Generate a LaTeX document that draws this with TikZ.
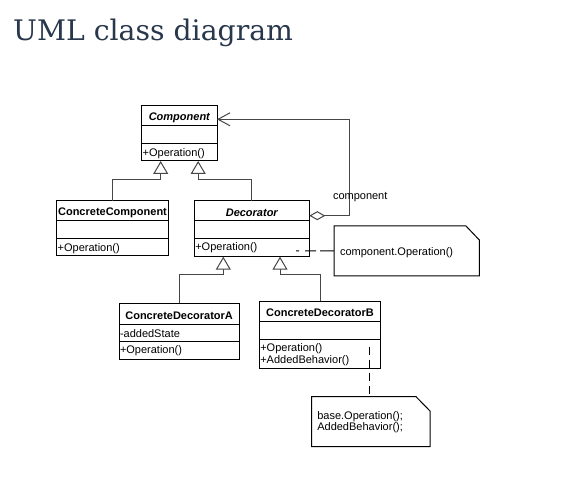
\documentclass[tikz,border=0pt]{standalone}
\usepackage{fontspec}
\setmainfont{Liberation Sans}
\newfontfamily\titlefont{DejaVu Serif}
\usetikzlibrary{arrows.meta,calc}
\definecolor{titlecol}{RGB}{40,55,75}
\definecolor{linecol}{RGB}{70,70,70}
\begin{document}
\begin{tikzpicture}[x=1pt,y=-1pt,
  box/.style={draw=black,line width=1pt,inner sep=0pt,outer sep=0pt,anchor=north west},
  sep/.style={draw=black,line width=1pt},
  txt/.style={inner sep=0pt,outer sep=0pt,font=\fontsize{11}{12.5}\selectfont},
  ttl/.style={inner sep=0pt,outer sep=0pt,font=\fontsize{11}{12.5}\selectfont\bfseries},
  ttli/.style={inner sep=0pt,outer sep=0pt,font=\fontsize{11}{12.5}\selectfont\bfseries\itshape},
  inh/.style={draw=linecol,line width=1pt,-{Triangle[open,length=13pt,width=15pt,fill=white]}},
  agg/.style={draw=linecol,line width=1pt,{Diamond[open,length=16pt,width=9pt,fill=white]}-{Straight Barb[length=12pt,width=13pt]}},
  dsh/.style={draw=black,line width=1pt,dash pattern=on 9pt off 4pt},
  notebox/.style={draw=black,line width=1pt},
  noteshape/.style={inner sep=0pt,outer sep=0pt,anchor=north west}
]
\useasboundingbox (0,0) rectangle (571,492);

% title
\node[anchor=base west,inner sep=0pt,text=titlecol,font=\titlefont\fontsize{28.3}{34}\selectfont] (title) at (13,41) {UML class diagram};

% classes
\node[box,minimum width=75.3pt,minimum height=55pt] (comp) at (141.7,106) {};
\draw[sep] ($(comp.north west)+(0,20)$) -- ($(comp.north east)+(0,20)$);
\draw[sep] ($(comp.north west)+(0,37.3)$) -- ($(comp.north east)+(0,37.3)$);
\node[ttli] (compt) at ($(comp.north)+(0,11.5)$) {Component};
\node[txt,anchor=west] (compm) at ($(comp.north west)+(1,47.5)$) {+Operation()};

\node[box,minimum width=111.6pt,minimum height=55pt] (cc) at (56.7,201) {};
\draw[sep] ($(cc.north west)+(0,20)$) -- ($(cc.north east)+(0,20)$);
\draw[sep] ($(cc.north west)+(0,38)$) -- ($(cc.north east)+(0,38)$);
\node[ttl] (cct) at ($(cc.north)+(0,11.5)$) {ConcreteComponent};
\node[txt,anchor=west] (ccm) at ($(cc.north west)+(1,47.5)$) {+Operation()};

\node[box,minimum width=115pt,minimum height=55.7pt] (dec) at (194.3,201) {};
\draw[sep] ($(dec.north west)+(0,19.7)$) -- ($(dec.north east)+(0,19.7)$);
\draw[sep] ($(dec.north west)+(0,37.3)$) -- ($(dec.north east)+(0,37.3)$);
\node[ttli] (dect) at ($(dec.north)+(0,11.5)$) {Decorator};
\node[txt,anchor=west] (decm) at ($(dec.north west)+(1,47)$) {+Operation()};

\node[box,minimum width=120.3pt,minimum height=55.7pt] (cda) at (119,303.3) {};
\draw[sep] ($(cda.north west)+(0,20.7)$) -- ($(cda.north east)+(0,20.7)$);
\draw[sep] ($(cda.north west)+(0,37.7)$) -- ($(cda.north east)+(0,37.7)$);
\node[ttl] (cdat) at ($(cda.north)+(0,12.3)$) {ConcreteDecoratorA};
\node[txt,anchor=west] (cdaa) at ($(cda.north west)+(1,29.8)$) {-addedState};
\node[txt,anchor=west] (cdam) at ($(cda.north west)+(1,47.3)$) {+Operation()};

\node[box,minimum width=121.4pt,minimum height=67.3pt] (cdb) at (259.3,301) {};
\draw[sep] ($(cdb.north west)+(0,20)$) -- ($(cdb.north east)+(0,20)$);
\draw[sep] ($(cdb.north west)+(0,38)$) -- ($(cdb.north east)+(0,38)$);
\node[ttl] (cdbt) at ($(cdb.north)+(0,11.3)$) {ConcreteDecoratorB};
\node[txt,anchor=west] (cdbm1) at ($(cdb.north west)+(1,47.2)$) {+Operation()};
\node[txt,anchor=west] (cdbm2) at ($(cdb.north west)+(1,59.5)$) {+AddedBehavior()};

% inheritance
\coordinate (t1) at ($(comp.south west)+(19,0)$);
\coordinate (j1) at ($(t1)+(0,18.3)$);
\coordinate (t2) at ($(comp.south west)+(56.5,0)$);
\coordinate (j2) at ($(t2)+(0,18.3)$);
\draw[inh] (cc.north) |- (j1) -- (t1);
\draw[inh] (dec.north) |- (j2) -- (t2);
\coordinate (t3) at ($(dec.south west)+(29,0)$);
\coordinate (j3) at ($(t3)+(0,18.3)$);
\coordinate (t4) at ($(dec.south west)+(85.7,0)$);
\coordinate (j4) at ($(t4)+(0,18.3)$);
\draw[inh] (cda.north) |- (j3) -- (t3);
\draw[inh] (cdb.north) |- (j4) -- (t4);

% aggregation
\coordinate (ag) at ($(dec.north east)+(0,14.7)$);
\coordinate (ab) at ($(ag)+(40,0)$);
\coordinate (cr) at ($(comp.north east)+(0,13.3)$);
\draw[agg] (ag) -- (ab) |- (cr);
\node[txt,anchor=west] (lbl) at (333,197.2) {component};

% notes
\node[noteshape,minimum width=145.3pt,minimum height=50pt] (n1) at (334,226) {};
\draw[notebox] (n1.north west) -- ($(n1.north east)+(-13.3,0)$) -- ($(n1.north east)+(0,14)$) -- (n1.south east) -- (n1.south west) -- cycle;
\node[txt,anchor=west] (n1t) at ($(n1.west)+(6,1.5)$) {component.Operation()};

\node[noteshape,minimum width=118.3pt,minimum height=50pt] (n2) at (311.7,396.7) {};
\draw[notebox] (n2.north west) -- ($(n2.north east)+(-14,0)$) -- ($(n2.north east)+(0,14.3)$) -- (n2.south east) -- (n2.south west) -- cycle;
\node[txt,anchor=west] (n2t1) at ($(n2.north west)+(5.6,19.8)$) {base.Operation();};
\node[txt,anchor=west] (n2t2) at ($(n2.north west)+(5.6,31)$) {AddedBehavior();};

% note links
\coordinate (d1) at ($(dec.south east)+(-13.3,-5.7)$);
\draw[dsh,dash pattern=on 3pt off 6pt on 11pt off 4pt on 20pt off 0pt] (d1) -- (n1.west);
\coordinate (d2) at ($(cdb.south east)+(-11.4,-21.6)$);
\draw[dsh,dash pattern=on 8pt off 5pt] (d2) -- (d2 |- n2.north);
\end{tikzpicture}
\end{document}
